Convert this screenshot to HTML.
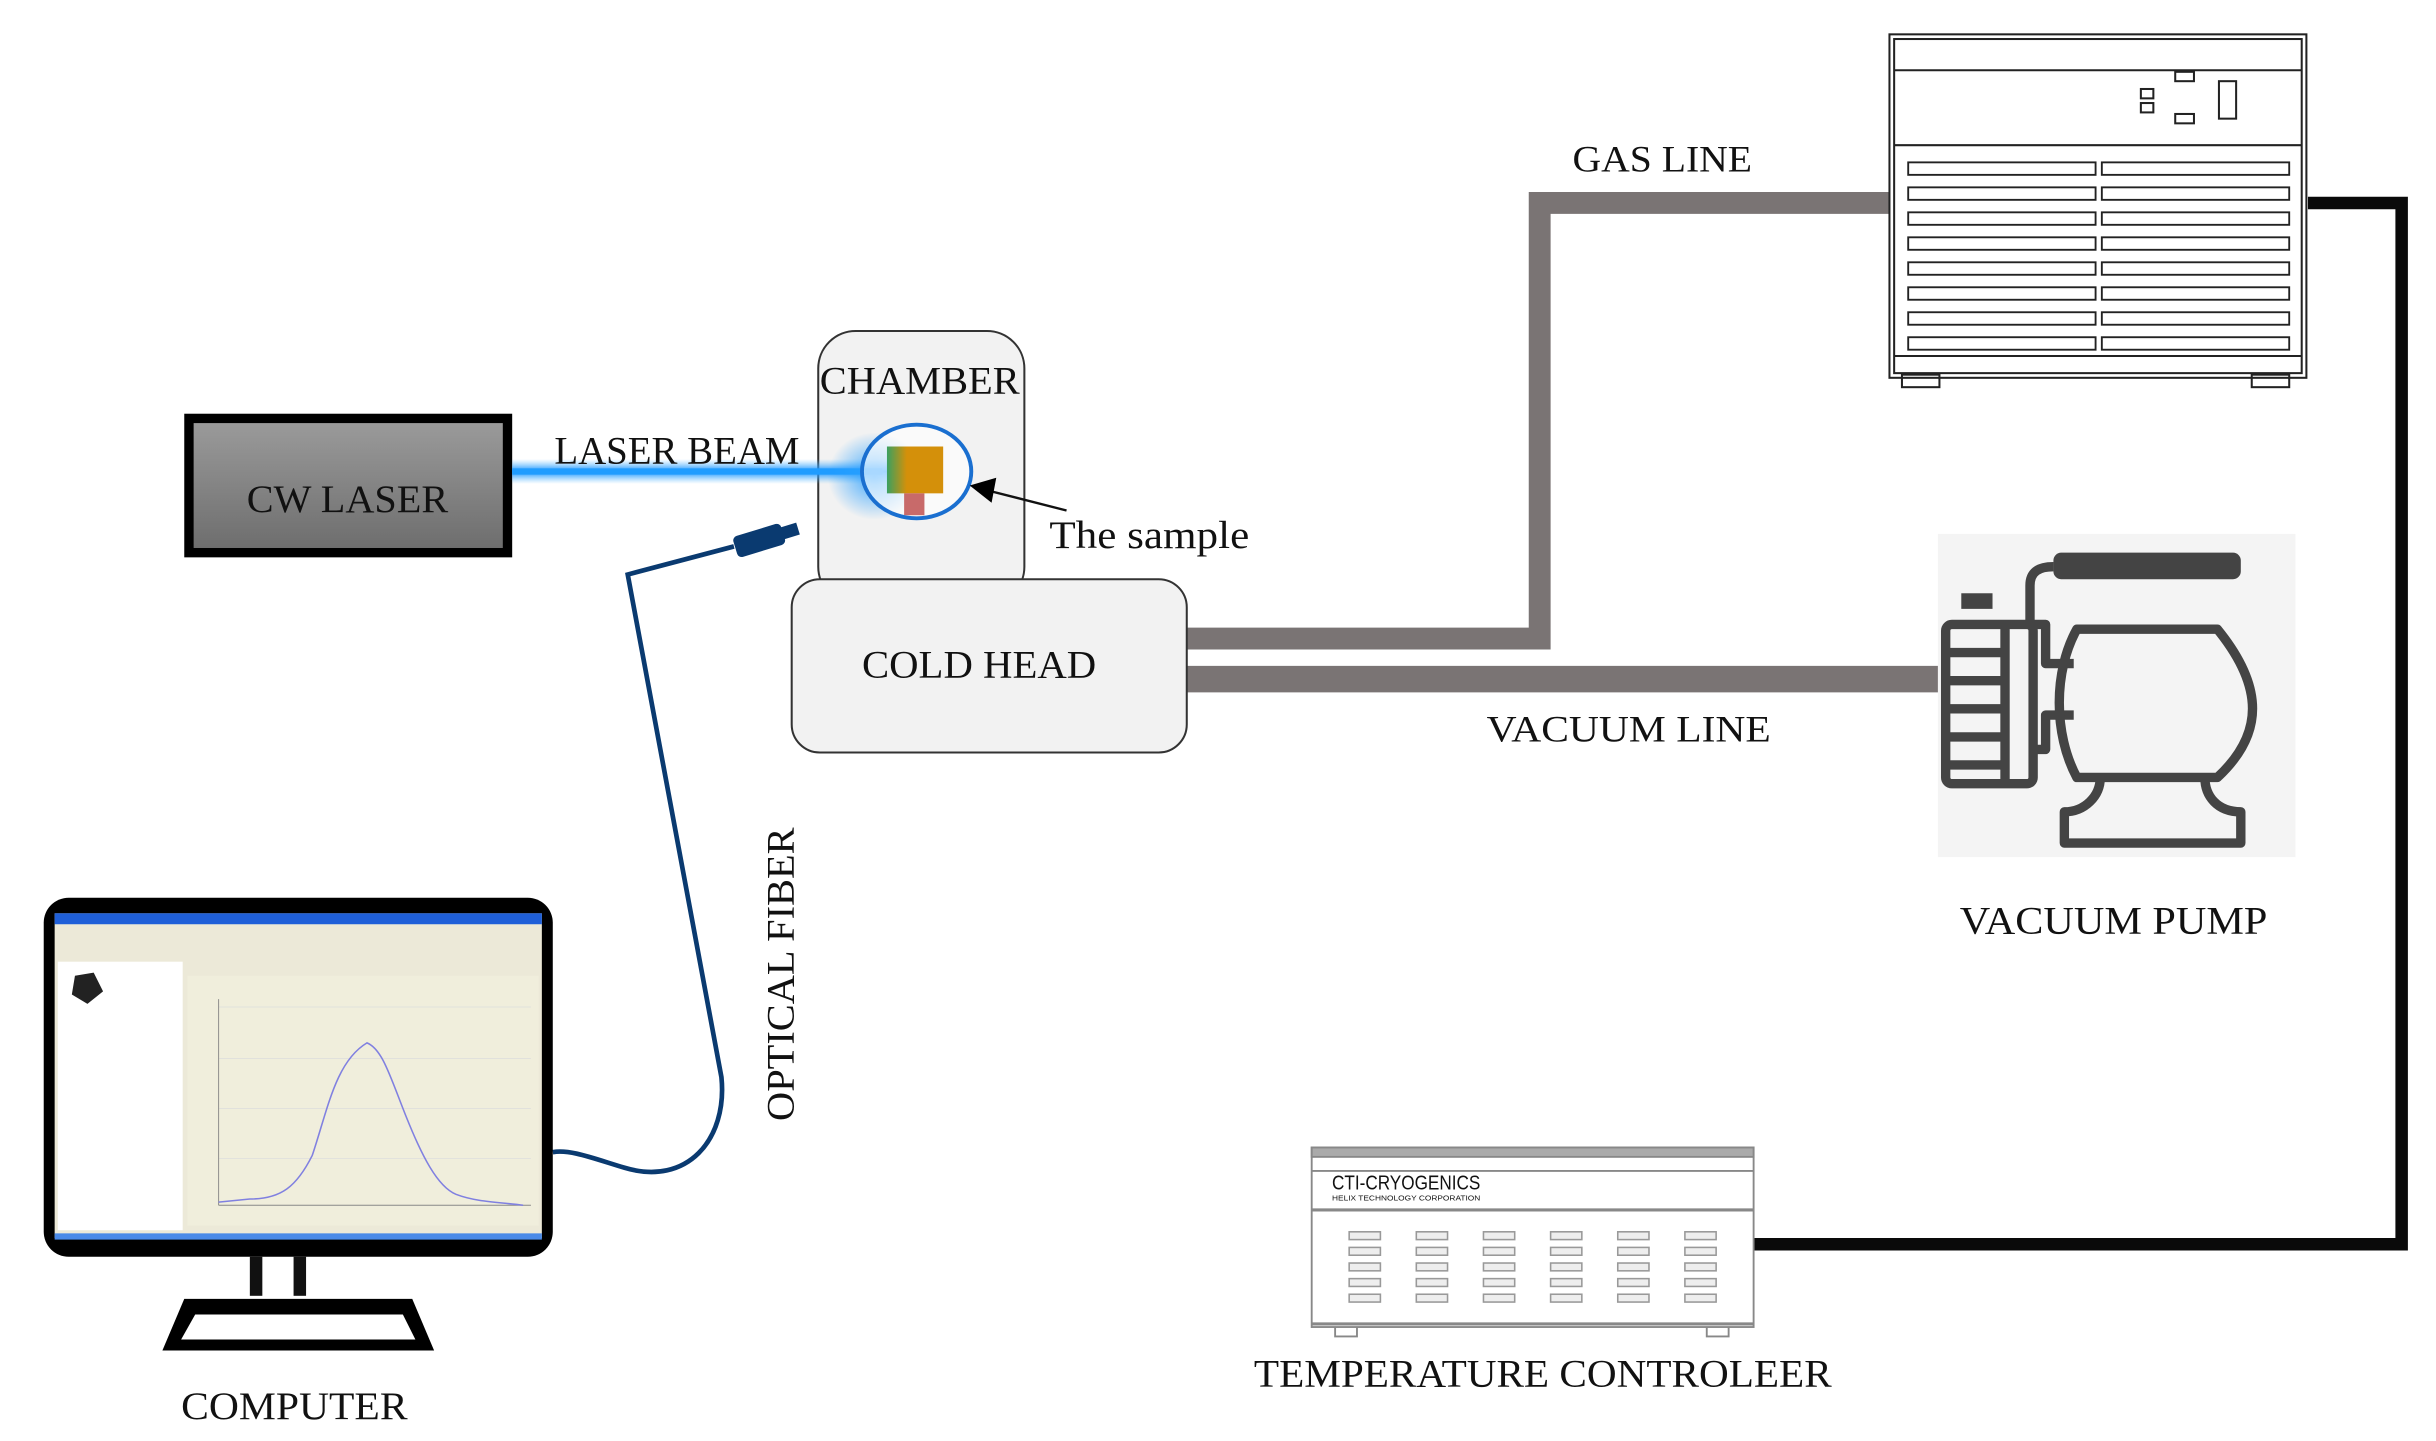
<!DOCTYPE html>
<html><head><meta charset="utf-8"><style>html,body{margin:0;padding:0;background:#fff}svg{display:block}</style></head>
<body>
<svg width="2436" height="1441" viewBox="0 0 1560 923" preserveAspectRatio="none" xmlns="http://www.w3.org/2000/svg" font-family="Liberation Serif, serif">
<defs>
<linearGradient id="lg" x1="0" y1="0" x2="0" y2="1"><stop offset="0" stop-color="#9a9a9a"/><stop offset="1" stop-color="#6e6e6e"/></linearGradient>
<radialGradient id="glow" cx="0.5" cy="0.5" r="0.5"><stop offset="0" stop-color="#2aa0ff" stop-opacity="0.9"/><stop offset="1" stop-color="#2aa0ff" stop-opacity="0"/></radialGradient>
<linearGradient id="beam" x1="0" y1="0" x2="0" y2="1"><stop offset="0" stop-color="#6cc4ff" stop-opacity="0"/><stop offset="0.5" stop-color="#0a8cff"/><stop offset="1" stop-color="#6cc4ff" stop-opacity="0"/></linearGradient>
<linearGradient id="samp" x1="0" y1="0" x2="1" y2="0"><stop offset="0" stop-color="#3aa060"/><stop offset="0.35" stop-color="#d4900a"/><stop offset="1" stop-color="#d4900a"/></linearGradient>
</defs>

<rect x="118" y="265" width="210" height="92" fill="#000"/>
<rect x="124" y="271" width="198" height="80" fill="url(#lg)"/>
<text x="158" y="328" font-size="25" textLength="129" lengthAdjust="spacingAndGlyphs" fill="#111">CW LASER</text>

<polyline points="760,409 986,409 986,130 1212,130" fill="none" stroke="#7a7474" stroke-width="14"/>
<line x1="760" y1="435" x2="1242" y2="435" stroke="#7a7474" stroke-width="17"/>
<text x="1007" y="110" font-size="24" textLength="115" lengthAdjust="spacingAndGlyphs" fill="#111">GAS LINE</text>
<text x="952" y="475" font-size="24" textLength="182" lengthAdjust="spacingAndGlyphs" fill="#111">VACUUM LINE</text>

<polyline points="1478,130 1538,130 1538,797 1123,797" fill="none" stroke="#0a0a0a" stroke-width="8"/>

<rect x="524" y="212" width="132" height="175" rx="24" fill="#f2f2f2" stroke="#333" stroke-width="1.3"/>
<text x="525" y="252" font-size="25" textLength="128" lengthAdjust="spacingAndGlyphs" fill="#111">CHAMBER</text>
<rect x="328" y="294" width="240" height="16" fill="url(#beam)"/>
<line x1="328" y1="302" x2="565" y2="302" stroke="#1f9cff" stroke-width="4"/>
<ellipse cx="560" cy="305" rx="30" ry="28" fill="url(#glow)"/>
<ellipse cx="587" cy="302" rx="35" ry="30" fill="#fff" fill-opacity="0.6" stroke="#1a6fd0" stroke-width="2.5"/>
<rect x="568" y="286" width="36" height="30" fill="url(#samp)"/>
<rect x="579" y="316" width="13" height="14" fill="#c86a6a"/>
<text x="355" y="297" font-size="25" textLength="157" lengthAdjust="spacingAndGlyphs" fill="#111">LASER BEAM</text>
<line x1="683" y1="327" x2="632" y2="314" stroke="#111" stroke-width="1.5"/>
<polygon points="621,311 638,306 635,322" fill="#000"/>
<text x="672" y="351" font-size="25" textLength="128" lengthAdjust="spacingAndGlyphs" fill="#111">The sample</text>

<rect x="507" y="371" width="253" height="111" rx="18" fill="#f2f2f2" stroke="#333" stroke-width="1.3"/>
<text x="552" y="434" font-size="25" textLength="150" lengthAdjust="spacingAndGlyphs" fill="#111">COLD HEAD</text>

<path d="M470,350 L402,368 L462,690 C466,730 440,760 400,748 C380,742 365,736 354,738" fill="none" stroke="#0a3a70" stroke-width="3"/>
<g transform="rotate(-17 490 345)"><rect x="470" y="338" width="32" height="14" rx="3" fill="#0a3a70"/><rect x="500" y="341" width="12" height="8" fill="#0a3a70"/></g>
<text transform="translate(508 718) rotate(-90)" font-size="25" textLength="188" lengthAdjust="spacingAndGlyphs" fill="#111">OPTICAL FIBER</text>

<g fill="none" stroke="#222" stroke-width="1.3">
<rect x="1210" y="22" width="267" height="220" fill="#fff"/>
<rect x="1213" y="25" width="261" height="214"/>
<line x1="1213" y1="45" x2="1474" y2="45"/>
<line x1="1213" y1="93" x2="1474" y2="93"/>
<rect x="1393" y="46" width="12" height="6"/><rect x="1393" y="73" width="12" height="6"/>
<rect x="1371" y="57" width="8" height="6"/><rect x="1371" y="66" width="8" height="6"/>
<rect x="1421" y="52" width="11" height="24"/>
<line x1="1213" y1="228" x2="1474" y2="228"/>
<rect x="1218" y="240" width="24" height="8"/><rect x="1442" y="240" width="24" height="8"/>
</g>
<g fill="#fff" stroke="#222" stroke-width="1.2">
<rect x="1222" y="104" width="120" height="8"/><rect x="1346" y="104" width="120" height="8"/>
<rect x="1222" y="120" width="120" height="8"/><rect x="1346" y="120" width="120" height="8"/>
<rect x="1222" y="136" width="120" height="8"/><rect x="1346" y="136" width="120" height="8"/>
<rect x="1222" y="152" width="120" height="8"/><rect x="1346" y="152" width="120" height="8"/>
<rect x="1222" y="168" width="120" height="8"/><rect x="1346" y="168" width="120" height="8"/>
<rect x="1222" y="184" width="120" height="8"/><rect x="1346" y="184" width="120" height="8"/>
<rect x="1222" y="200" width="120" height="8"/><rect x="1346" y="200" width="120" height="8"/>
<rect x="1222" y="216" width="120" height="8"/><rect x="1346" y="216" width="120" height="8"/>
</g>

<rect x="1241" y="342" width="229" height="207" fill="#f4f4f4"/>
<g fill="none" stroke="#444" stroke-width="6" stroke-linejoin="round">
<rect x="1246" y="400" width="56" height="102" rx="4"/>
<line x1="1246" y1="418" x2="1284" y2="418"/><line x1="1246" y1="436" x2="1284" y2="436"/><line x1="1246" y1="454" x2="1284" y2="454"/><line x1="1246" y1="472" x2="1284" y2="472"/><line x1="1246" y1="490" x2="1284" y2="490"/>
<line x1="1284" y1="400" x2="1284" y2="502"/>
<path d="M1302,400 H1310 V425 H1328 M1302,480 H1310 V458 H1328"/>
<path d="M1330,403 H1420 C1450,440 1450,470 1420,498 H1330 C1315,470 1315,430 1330,403 Z"/>
<path d="M1345,498 C1345,510 1335,520 1322,520 V540 H1435 V520 C1420,520 1412,510 1412,498"/>
<path d="M1300,400 V375 C1300,366 1306,363 1315,363"/>
</g>
<rect x="1315" y="354" width="120" height="17" rx="5" fill="#444"/>
<rect x="1256" y="380" width="20" height="10" fill="#444"/>
<text x="1255" y="598" font-size="25" textLength="197" lengthAdjust="spacingAndGlyphs" fill="#111">VACUUM PUMP</text>

<g fill="none" stroke="#888" stroke-width="1.2">
<rect x="840" y="735" width="283" height="115" fill="#fff"/>
<rect x="840" y="735" width="283" height="6" fill="#aaa"/>
<line x1="840" y1="750" x2="1123" y2="750"/>
<line x1="840" y1="775" x2="1123" y2="775" stroke-width="2"/>
<line x1="840" y1="848" x2="1123" y2="848" stroke-width="2"/>
<path d="M855,850 v6 h14 v-6 M1093,850 v6 h14 v-6"/>
</g>
<text x="853" y="762" font-size="13" fill="#111" font-family="Liberation Sans, sans-serif" textLength="95" lengthAdjust="spacingAndGlyphs">CTI-CRYOGENICS</text>
<text x="853" y="769" font-size="4.5" fill="#111" font-family="Liberation Sans, sans-serif" textLength="95" lengthAdjust="spacingAndGlyphs">HELIX TECHNOLOGY CORPORATION</text>
<g fill="#eee" stroke="#999" stroke-width="1">
<g id="col"><rect x="864" y="789" width="20" height="5"/><rect x="864" y="799" width="20" height="5"/><rect x="864" y="809" width="20" height="5"/><rect x="864" y="819" width="20" height="5"/><rect x="864" y="829" width="20" height="5"/></g>
<use href="#col" x="43"/><use href="#col" x="86"/><use href="#col" x="129"/><use href="#col" x="172"/><use href="#col" x="215"/>
</g>
<text x="803" y="888" font-size="25" textLength="370" lengthAdjust="spacingAndGlyphs" fill="#111">TEMPERATURE CONTROLEER</text>

<rect x="28" y="575" width="326" height="230" rx="16" fill="#000"/>
<rect x="35" y="585" width="312" height="208" fill="#ece9d8"/>
<rect x="35" y="585" width="312" height="7" fill="#1f5fd8"/>
<rect x="35" y="790" width="312" height="4" fill="#4a8ae8"/>
<rect x="37" y="616" width="80" height="172" fill="#fff"/>
<rect x="120" y="625" width="225" height="160" fill="#f0eedc"/>
<g stroke="#ddd" stroke-width="0.5"><line x1="140" y1="645" x2="340" y2="645"/><line x1="140" y1="678" x2="340" y2="678"/><line x1="140" y1="710" x2="340" y2="710"/><line x1="140" y1="742" x2="340" y2="742"/></g>
<line x1="140" y1="640" x2="140" y2="772" stroke="#888" stroke-width="0.6"/>
<line x1="140" y1="772" x2="340" y2="772" stroke="#888" stroke-width="0.6"/>
<path d="M140,770 L160,768 C180,768 190,760 200,740 C210,710 215,680 235,668 C245,672 250,690 260,715 C270,740 280,760 292,765 C305,770 320,770 335,772" fill="none" stroke="#8080e0" stroke-width="1"/>
<path d="M48,625 l12,-2 l6,12 l-10,8 l-10,-6z" fill="#222"/>
<rect x="160" y="805" width="8" height="25" fill="#111"/><rect x="188" y="805" width="8" height="25" fill="#111"/>
<path d="M118,832 H264 L278,865 H104 Z" fill="#000"/>
<path d="M125,842 H258 L266,858 H116 Z" fill="#fff"/>
<text x="116" y="909" font-size="25" textLength="145" lengthAdjust="spacingAndGlyphs" fill="#111">COMPUTER</text>
</svg>
</body></html>
